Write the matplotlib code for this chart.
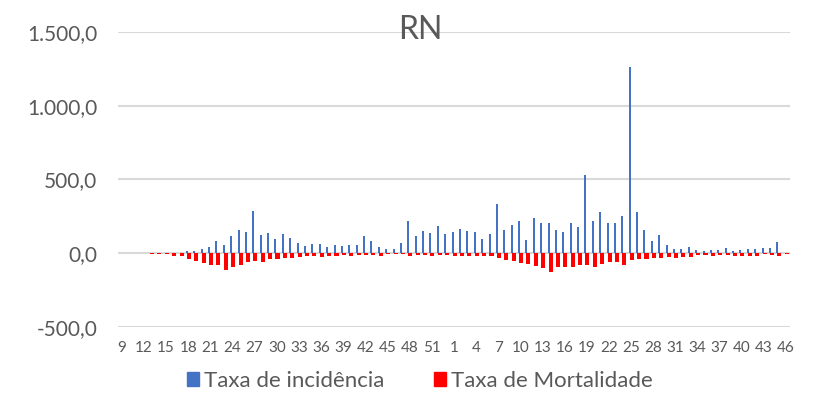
import numpy as np
import matplotlib.pyplot as plt
from matplotlib.ticker import FuncFormatter
from matplotlib.patches import Patch

# epidemiological weeks: 2020 (9-53) then 2021 (1-46)
weeks = list(range(9, 54)) + list(range(1, 47))

incidencia_2020 = [0, 0, 0, 0, 1, 1, 2, 3, 5, 12, 14, 28, 45, 80, 58, 116, 155, 144, 288, 125,
                   137, 99, 133, 104, 72, 48, 63, 62, 40, 56, 47, 58, 57, 120, 80, 42, 31, 29,
                   68, 218, 120, 150, 138, 186, 129]
incidencia_2021 = [145, 162, 150, 145, 98, 130, 332, 155, 192, 222, 88, 238, 205, 205, 155, 142,
                   202, 178, 530, 220, 282, 202, 202, 254, 1265, 277, 157, 80, 125, 55, 32, 32,
                   45, 21, 15, 22, 21, 33, 18, 20, 28, 30, 37, 37, 78, 0]

mortalidade_2020 = [0, 0, 0, 0, 3, 3, 8, 18, 22, 41, 55, 68, 81, 80, 113, 95, 81, 56, 55, 59,
                    37, 41, 32, 32, 25, 22, 17, 26, 20, 17, 15, 16, 11, 11, 9, 16, 7, 7, 7, 16,
                    11, 11, 18, 9, 11]
mortalidade_2021 = [18, 17, 17, 22, 21, 20, 30, 44, 52, 65, 75, 86, 97, 128, 90, 93, 96, 81, 80,
                    91, 75, 59, 60, 82, 49, 38, 42, 30, 30, 25, 30, 23, 23, 14, 14, 16, 9, 9, 16,
                    16, 16, 16, 7, 9, 16, 5]

incidencia = incidencia_2020 + incidencia_2021
mortalidade = [-v for v in mortalidade_2020 + mortalidade_2021]

x = np.arange(len(weeks))

plt.rcParams['font.family'] = ['Lato', 'DejaVu Sans']

fig = plt.figure(figsize=(8.2, 4.03), dpi=100)
ax = fig.add_axes([0.144, 0.1886, 0.819, 0.732])

ax.bar(x - 0.17, incidencia, width=0.27, color='#4472c4', zorder=3)
ax.bar(x + 0.1, mortalidade, width=0.55, color='#ff0000', zorder=3)

ax.set_ylim(-500, 1500)
ax.set_xlim(-0.5, len(weeks) - 0.5)
ax.set_yticks([-500, 0, 500, 1000, 1500])
ax.yaxis.set_major_formatter(FuncFormatter(
    lambda v, p: f'{v:,.1f}'.replace(',', 'X').replace('.', ',').replace('X', '.')))
ax.set_xticks(x[::3])
ax.set_xticklabels([str(w) for w in weeks[::3]])

ax.grid(axis='y', color='#d9d9d9', linewidth=1.5, zorder=0)
for s in ax.spines.values():
    s.set_visible(False)
ax.tick_params(axis='y', length=0, labelsize=15, labelcolor='#595959', pad=15)
ax.tick_params(axis='x', length=0, labelsize=11, labelcolor='#595959', pad=10)

fig.text(0.512, 0.925, 'RN', ha='center', va='center', fontsize=23, color='#595959')

handles = [Patch(color='#4472c4'), Patch(color='#ff0000')]
fig.legend(handles, ['Taxa de incidência', 'Taxa de Mortalidade'], loc='center',
           bbox_to_anchor=(0.512, 0.055), ncol=2, frameon=False, fontsize=16,
           handlelength=0.55, handleheight=0.55, handletextpad=0.25, columnspacing=2.2,
           labelcolor='#595959')

fig.savefig('out.png', dpi=100)
